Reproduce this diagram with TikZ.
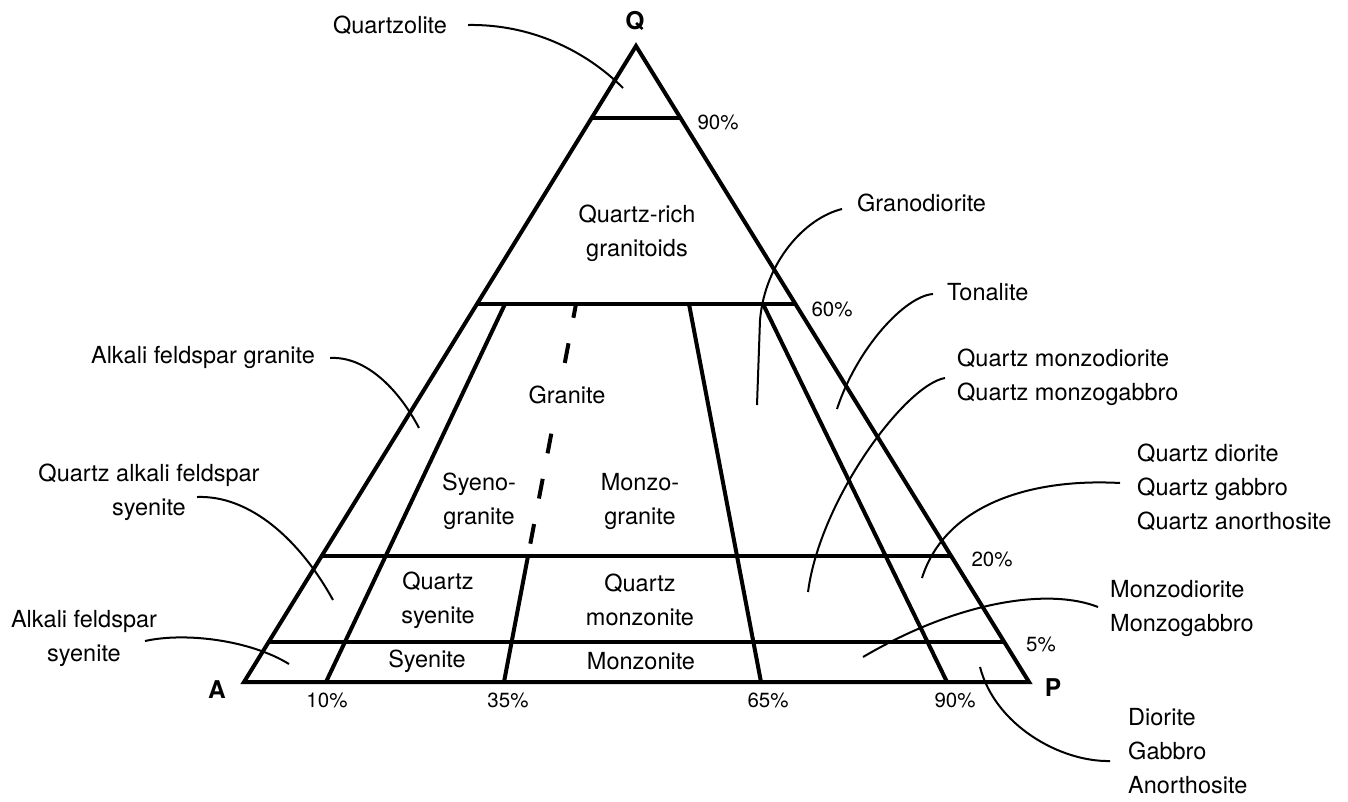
\documentclass[tikz,border=0pt]{standalone}
\usepackage{fontspec}
\setmainfont{TeX Gyre Heros}
\usepackage{tikz}
\usetikzlibrary{calc}

\tikzset{
  zone/.style={black, line width=4pt},
  leader/.style={black, line width=2pt},
  rock/.style={font=\fontsize{23.5}{34}\selectfont, inner sep=0pt},
  pct/.style={font=\fontsize{20.5}{24}\selectfont, inner sep=0pt},
  apex/.style={font=\fontsize{24.5}{28}\selectfont\bfseries, inner sep=0pt}
}

\begin{document}
\begin{tikzpicture}[x=1pt,y=-1pt]
\useasboundingbox (0,0) rectangle (1348,801);
  \coordinate (A) at (244,682);
  \coordinate (P) at (1029,682);
  \coordinate (Q) at (636,46);
  \draw[zone, line join=miter] (A) -- (P) -- (Q) -- cycle;
  % Q levels 90, 60, 20, 5
  \draw[zone] ($(A)!0.887!(Q)$) -- ($(P)!0.887!(Q)$);
  \draw[zone] ($(A)!0.594!(Q)$) -- ($(P)!0.594!(Q)$);
  \draw[zone] ($(A)!0.198!(Q)$) -- ($(P)!0.198!(Q)$);
  \draw[zone] ($(A)!0.063!(Q)$) -- ($(P)!0.063!(Q)$);
  % P/(A+P) dividers
  \coordinate (b10) at (326,682);  \coordinate (t10) at (505,304);
  \coordinate (b35) at (504,682);  \coordinate (t35) at (576,304);
  \coordinate (b65) at (761,682);  \coordinate (t65) at (689,304);
  \coordinate (b90) at (947,682);  \coordinate (t90) at (763,304);
  \coordinate (m35) at ($(b35)!0.3333!(t35)$);
  \draw[zone] (b10) -- (t10);
  \draw[zone] (b35) -- (m35);
  \draw[zone, dash pattern=on 20pt off 26pt, dash phase=6pt] (t35) -- (m35);
  \draw[zone] (b65) -- (t65);
  \draw[zone] (b90) -- (t90);

  \node[apex] (q) at (635,21) {Q};
  \node[apex] (a) at (217,690) {A};
  \node[apex] (p) at (1053,688) {P};
  \node[pct] (l90) at (718,122) {90\%};
  \node[pct] (l60) at (832,309) {60\%};
  \node[pct] (l20) at (992,559) {20\%};
  \node[pct] (l5) at (1041,644) {5\%};
  \node[pct] (b10l) at (327,700) {10\%};
  \node[pct] (b35l) at (508,700) {35\%};
  \node[pct] (b65l) at (768,700) {65\%};
  \node[pct] (b90l) at (955,700) {90\%};

  % fields
  \node[rock, align=center] (qrg) at (637,233) {Quartz-rich\\granitoids};
  \node[rock, fill=white, inner sep=6pt] (gra) at (567,395) {Granite};
  \node[rock, align=center] (syg) at (479,501) {Syeno-\\granite};
  \node[rock, align=center] (mzg) at (640,501) {Monzo-\\granite};
  \node[rock, align=center] (qsy) at (438,600) {Quartz\\syenite};
  \node[rock, align=center] (qmz) at (640,600) {Quartz\\monzonite};
  \node[rock] (sye) at (427,661) {Syenite};
  \node[rock] (mzn) at (641,661) {Monzonite};

  % names outside
  \node[rock] (qzl) at (390,25) {Quartzolite};
  \node[rock] (afg) at (203,357) {Alkali feldspar granite};
  \node[rock, align=center] (qafs) at (149,492) {Quartz alkali feldspar\\syenite};
  \node[rock, align=center] (afs) at (84,638) {Alkali feldspar\\syenite};
  \node[rock, anchor=west] (grd) at (857,203) {Granodiorite};
  \node[rock, anchor=west] (ton) at (947,292) {Tonalite};
  \node[rock, anchor=west, align=left] (qmd) at (957,377) {Quartz monzodiorite\\Quartz monzogabbro};
  \node[rock, anchor=west, align=left] (qdi) at (1137,487) {Quartz diorite\\Quartz gabbro\\Quartz anorthosite};
  \node[rock, anchor=west, align=left] (mzd) at (1110,608) {Monzodiorite\\Monzogabbro};
  \node[rock, anchor=west, align=left] (dio) at (1128,751) {Diorite\\Gabbro\\Anorthosite};

  % leader ends
  \coordinate (qzl-pt) at (623,88);
  \coordinate (afg-pt) at (419,428);
  \coordinate (qafs-pt) at (333,600);
  \coordinate (afs-pt) at (289,664);
  \coordinate (grd-pt) at (757,405);
  \coordinate (ton-pt) at (837,409);
  \coordinate (qmd-pt) at (808,592);
  \coordinate (qdi-pt) at (922,578);
  \coordinate (mzd-pt) at (863,657);
  \coordinate (dio-pt) at (980,667);

  \draw[leader] ($(qzl.east)+(21,0)$) .. controls (530,24) and (585,50) .. (qzl-pt);
  \draw[leader] ($(afg.east)+(15,1)$) .. controls (365,356) and (398,388) .. (afg-pt);
  \draw[leader] ($(qafs.center)+(48,5)$) .. controls (250,495) and (300,540) .. (qafs-pt);
  \draw[leader] ($(afs.center)+(61,3)$) .. controls (185,632) and (250,640) .. (afs-pt);
  \draw[leader] ($(grd.west)+(-15,6)$) .. controls (805,218) and (765,262) .. (760,320) -- (grd-pt);
  \draw[leader] ($(ton.west)+(-14,2)$) .. controls (905,296) and (857,348) .. (ton-pt);
  \draw[leader] ($(qmd.west)+(-12,1)$) .. controls (905,385) and (820,500) .. (qmd-pt);
  \draw[leader] ($(qdi.west)+(-17,-4)$) .. controls (1030,478) and (945,505) .. (qdi-pt);
  \draw[leader] ($(mzd.west)+(-12,-1)$) .. controls (1050,588) and (960,600) .. (mzd-pt);
  \draw[leader] ($(dio.west)+(-18,10)$) .. controls (1060,762) and (995,725) .. (dio-pt);
\end{tikzpicture}
\end{document}
